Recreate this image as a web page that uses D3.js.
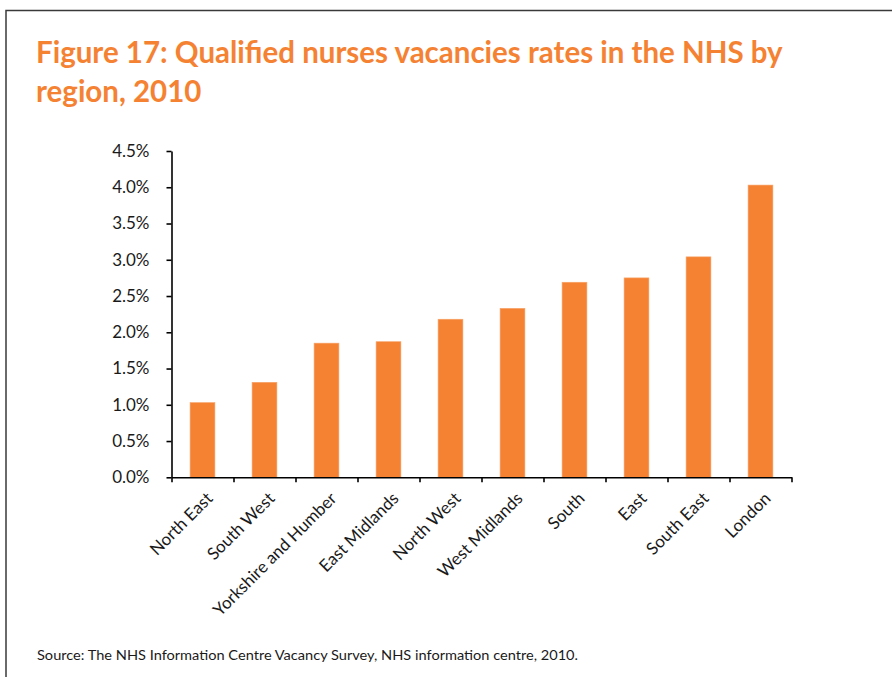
<!DOCTYPE html>
<html><head><meta charset="utf-8">
<script src="https://cdn.jsdelivr.net/npm/d3@7"></script>
<style>body{margin:0;background:#fff;} svg{display:block;}</style>
</head><body>
<script>
const regions = ["North East","South West","Yorkshire and Humber","East Midlands","North West","West Midlands","South","East","South East","London"];
const rates = [1.03,1.31,1.85,1.87,2.18,2.33,2.69,2.75,3.04,4.03];
const yTicks = [0,0.5,1,1.5,2,2.5,3,3.5,4,4.5];
const titleLines = ["Figure 17: Qualified nurses vacancies rates in the NHS by","region, 2010"];
const sourceText = "Source: The NHS Information Centre Vacancy Survey, NHS information centre, 2010.";

const W = 892, H = 677;
const svg = d3.select("body").append("svg").attr("width", W).attr("height", H);
svg.append("rect").attr("width", W).attr("height", H).attr("fill", "#fff");

// frame
svg.append("path").attr("d", `M6,${H} V10.5 H${W}`).attr("fill","none").attr("stroke","#3a3a3a").attr("stroke-width",1.5);

const orange = "#F58233";
const font = "Lato, 'Open Sans', sans-serif";

// title
const tg = svg.append("g").attr("transform","translate(36,0)");
const t1 = tg.append("text").attr("x",0).attr("y",63).text(titleLines[0])
  .attr("font-family",font).attr("font-weight","bold").attr("font-size",30).attr("fill",orange);
tg.append("text").attr("x",0).attr("y",102).text(titleLines[1])
  .attr("font-family",font).attr("font-weight","bold").attr("font-size",30).attr("fill",orange);
const nat = t1.node().getComputedTextLength();
tg.attr("transform",`translate(36,0) scale(${747/nat},1)`);

// chart
const x0 = 171.5, x1 = 791.5, yBottom = 477.3, yTop = 151;
const x = d3.scaleBand().domain(regions).range([x0,x1]).paddingInner(0.6).paddingOuter(0.3);
const y = d3.scaleLinear().domain([0,4.5]).range([yBottom,yTop]);

svg.append("g").selectAll("rect").data(regions).join("rect")
  .attr("x", d=>x(d)).attr("width", x.bandwidth())
  .attr("y", (d,i)=>y(rates[i])).attr("height",(d,i)=>yBottom-y(rates[i]))
  .attr("fill", orange).attr("stroke","#F9A46A").attr("stroke-width",0.6);

const yAxis = svg.append("g").attr("transform",`translate(${x0},0)`)
  .call(d3.axisLeft(y).tickValues(yTicks).tickSize(5).tickSizeOuter(0).tickFormat(d=>d.toFixed(1)+"%"));
yAxis.select(".domain").attr("stroke","#000").attr("stroke-width",1.6);
yAxis.selectAll(".tick line").attr("stroke","#000").attr("stroke-width",1.6);
yAxis.selectAll(".tick text").attr("font-family",font).attr("font-size",17).attr("fill","#1a1a1a").attr("x",-22);

const xb = d3.scaleLinear().domain([0,regions.length]).range([x0,x1]);
const xAxis = svg.append("g").attr("transform",`translate(0,${yBottom})`)
  .call(d3.axisBottom(xb).tickValues(d3.range(0,regions.length+1)).tickSize(5).tickSizeOuter(0).tickFormat(""));
xAxis.select(".domain").attr("stroke","#000").attr("stroke-width",1.6);
xAxis.selectAll(".tick line").attr("stroke","#000").attr("stroke-width",1.6);

svg.append("g").selectAll("text").data(regions).join("text")
  .attr("transform", d=>`translate(${x(d)+x.bandwidth()/2+7},${yBottom+18}) rotate(-45)`)
  .attr("text-anchor","end").attr("dy","0.35em")
  .attr("font-family",font).attr("font-size",17).attr("fill","#1a1a1a").text(d=>d);

// source
const s = svg.append("text").attr("x",37).attr("y",660).text(sourceText)
  .attr("font-family",font).attr("font-size",13.5).attr("fill","#1a1a1a");
s.attr("textLength",541).attr("lengthAdjust","spacingAndGlyphs");
</script>
</body></html>
